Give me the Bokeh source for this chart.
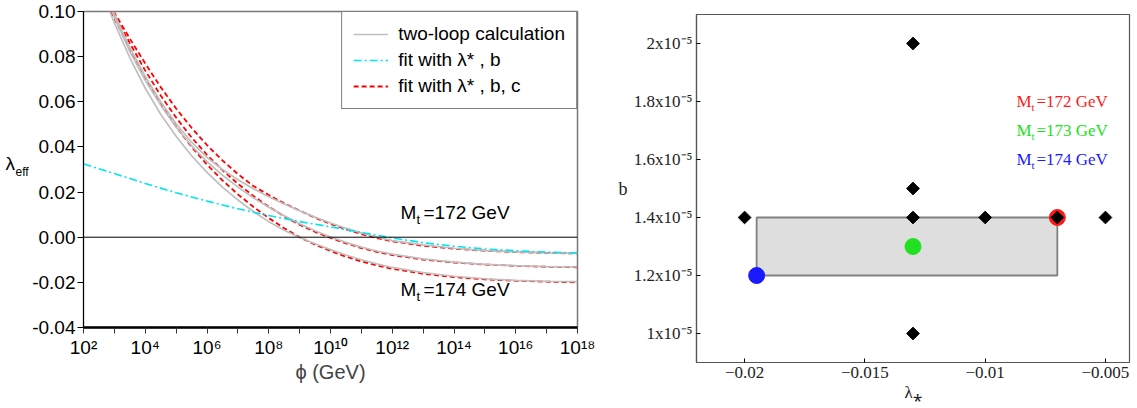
from bokeh.plotting import figure
from bokeh.layouts import row, column
from bokeh.models import (FixedTicker, Span, Label, Legend, LegendItem,
                          NumeralTickFormatter, CustomJSTickFormatter)
from bokeh.embed import file_html
from bokeh.resources import INLINE

# ---------------- left panel data: log10(phi/GeV) and lambda_eff ----------------
half_grid = [3, 3.5, 4, 4.5, 5, 5.5, 6, 6.5, 7, 7.5, 8, 8.5, 9, 9.5, 10, 10.5,
             11, 11.5, 12, 13, 14, 15, 16, 17, 18]

logphi_loop_172 = [2.97] + half_grid
lam_loop_172 = [0.100, 0.0990, 0.0840, 0.0712, 0.0600, 0.0503, 0.0421, 0.0354, 0.0300,
                0.0255, 0.0215, 0.0179, 0.0147, 0.0117, 0.0089, 0.0063, 0.0040, 0.0019,
                0.0001, -0.0015, -0.0034, -0.0049, -0.0059, -0.0065, -0.0069, -0.0071]
logphi_loop_173 = [2.92] + half_grid
lam_loop_173 = [0.100, 0.0975, 0.0822, 0.0695, 0.0585, 0.0488, 0.0405, 0.0335, 0.0275,
                0.0222, 0.0175, 0.0133, 0.0095, 0.0060, 0.0029, 0.0001, -0.0023, -0.0044,
                -0.0061, -0.0075, -0.0096, -0.0110, -0.0120, -0.0126, -0.0130, -0.0132]
logphi_loop_174 = [2.85] + half_grid
lam_loop_174 = [0.100, 0.0950, 0.0795, 0.0660, 0.0545, 0.0447, 0.0361, 0.0287, 0.0222,
                0.0165, 0.0114, 0.0069, 0.0031, -0.0001, -0.0029, -0.0055, -0.0079, -0.0100,
                -0.0118, -0.0134, -0.0157, -0.0173, -0.0184, -0.0191, -0.0195, -0.0197]

logphi_fit3_172 = [2.97] + half_grid
lam_fit3_172 = [0.100, 0.0995, 0.0880, 0.0770, 0.0665, 0.0570, 0.0485, 0.0408, 0.0340,
                0.0280, 0.0227, 0.0187, 0.0150, 0.0118, 0.0086, 0.0059, 0.0035, 0.0014,
                -0.0004, -0.0018, -0.0038, -0.0051, -0.0060, -0.0066, -0.0070, -0.0072]
logphi_fit3_173 = [2.92] + half_grid
lam_fit3_173 = [0.100, 0.0985, 0.0860, 0.0738, 0.0628, 0.0530, 0.0442, 0.0365, 0.0297,
                0.0237, 0.0183, 0.0135, 0.0093, 0.0055, 0.0024, -0.0003, -0.0027, -0.0048,
                -0.0065, -0.0079, -0.0099, -0.0112, -0.0121, -0.0127, -0.0131, -0.0133]
logphi_fit3_174 = [2.88] + half_grid
lam_fit3_174 = [0.100, 0.0970, 0.0835, 0.0705, 0.0590, 0.0490, 0.0400, 0.0322, 0.0252,
                0.0190, 0.0135, 0.0085, 0.0040, 0.0000, -0.0033, -0.0061, -0.0086, -0.0107,
                -0.0125, -0.0140, -0.0162, -0.0177, -0.0187, -0.0193, -0.0197, -0.0200]

logphi_fit2_172 = [2, 3, 4, 5, 6, 7, 8, 9, 10, 11, 12, 13, 14, 15, 16, 17, 18]
lam_fit2_172 = [0.0325, 0.0282, 0.0238, 0.0197, 0.0160, 0.0126, 0.0096, 0.0069, 0.0046,
                0.0021, -0.0003, -0.0024, -0.0040, -0.0052, -0.0060, -0.0066, -0.0070]

x_major = [1e2, 1e4, 1e6, 1e8, 1e10, 1e12, 1e14, 1e16, 1e18]
x_minor = [1e3, 1e5, 1e7, 1e9, 1e11, 1e13, 1e15, 1e17]
x_tick_labels = ["10²", "10⁴", "10⁶", "10⁸", "10¹⁰", "10¹²", "10¹⁴", "10¹⁶", "10¹⁸"]
y_major = [-0.04, -0.02, 0.0, 0.02, 0.04, 0.06, 0.08, 0.10]
legend_labels = ["two-loop calculation", "fit with λ* , b", "fit with λ* , b, c"]
curve_labels = ["172", "174"]

# ---------------- right panel data ----------------
grid_lam = [-0.02, -0.013, -0.01, -0.007, -0.005, -0.013, -0.013, -0.013]
grid_b = [1.4e-5, 1.4e-5, 1.4e-5, 1.4e-5, 1.4e-5, 2.0e-5, 1.5e-5, 1.0e-5]
best_mt = ["172", "173", "174"]
best_lam = [-0.007, -0.013, -0.0195]
best_b = [1.4e-5, 1.3e-5, 1.2e-5]
rx_ticks = [-0.02, -0.015, -0.01, -0.005]
rx_labels = ["−0.02", "−0.015", "−0.01", "−0.005"]
ry_ticks = [1.0e-5, 1.2e-5, 1.4e-5, 1.6e-5, 1.8e-5, 2.0e-5]
ry_labels = ["1x10⁻⁵", "1.2x10⁻⁵", "1.4x10⁻⁵", "1.6x10⁻⁵", "1.8x10⁻⁵", "2x10⁻⁵"]

mt_colors = ["#ff1a1a", "#22e022", "#1a1aff"]

SANS = "Liberation Sans"
SERIF = "Liberation Serif"
H = 408


def nearest_formatter(tick_values, tick_texts):
    return CustomJSTickFormatter(args=dict(tvals=tick_values, ttexts=tick_texts), code="""
        let best = 0; let d = Infinity;
        for (let i = 0; i < tvals.length; i++) {
            const e = Math.abs(tvals[i] - tick);
            if (e < d) { d = e; best = i; }
        }
        return ttexts[best];
    """)


def label_strip(width):
    f = figure(width=width, height=H, x_range=(0, width), y_range=(0, H),
               output_backend="svg", toolbar_location=None,
               x_axis_location=None, y_axis_location=None,
               min_border_left=0, min_border_right=0, min_border_top=0, min_border_bottom=0)
    f.grid.visible = False
    f.outline_line_color = None
    return f


# ================= label strip for lambda_eff =================
sl = label_strip(29)
sl.add_layout(Label(x=5, y=H - 163, text="λ", text_font=SANS, text_font_size="19px",
                    text_color="black", text_baseline="middle"))
sl.add_layout(Label(x=15, y=H - 171, text="eff", text_font=SANS, text_font_size="12px",
                    text_color="black", text_baseline="middle"))

# ================= left figure =================
p = figure(width=571, height=H, x_axis_type="log", x_range=(1e2, 1e18),
           y_range=(-0.04, 0.10), output_backend="svg", toolbar_location=None,
           min_border_left=52, min_border_right=23, min_border_top=11, min_border_bottom=81)
p.grid.visible = False
p.outline_line_color = "#777777"
p.outline_line_width = 1.5
p.background_fill_color = "white"

p.add_layout(Span(location=0, dimension="width", line_color="black", line_width=1))


def pw(logs):
    return [10.0 ** v for v in logs]


red_kw = dict(line_color="#ff0000", line_width=1.8, line_dash="5 3")
gray_kw = dict(line_color="#bfbfbf", line_width=1.7)
r172 = p.line(pw(logphi_fit3_172), lam_fit3_172, **red_kw)
p.line(pw(logphi_fit3_173), lam_fit3_173, **red_kw)
p.line(pw(logphi_fit3_174), lam_fit3_174, **red_kw)
g172 = p.line(pw(logphi_loop_172), lam_loop_172, **gray_kw)
p.line(pw(logphi_loop_173), lam_loop_173, **gray_kw)
p.line(pw(logphi_loop_174), lam_loop_174, **gray_kw)
cy = p.line(pw(logphi_fit2_172), lam_fit2_172, line_color="#00e5ee", line_width=1.6,
            line_dash="8 3 2 3")

leg = Legend(items=[LegendItem(label=legend_labels[0], renderers=[g172]),
                    LegendItem(label=legend_labels[1], renderers=[cy]),
                    LegendItem(label=legend_labels[2], renderers=[r172])],
             location="top_right")
leg.margin = 0
leg.padding = 11
leg.spacing = 4
leg.label_height = 20
leg.glyph_height = 20
leg.glyph_width = 35
leg.label_standoff = 10
leg.border_line_color = "black"
leg.border_line_width = 1
leg.background_fill_alpha = 1.0
leg.label_text_font = SANS
leg.label_text_font_size = "19px"
leg.label_text_color = "black"
p.add_layout(leg)

xa = p.xaxis[0]
xa.ticker = FixedTicker(ticks=x_major, minor_ticks=x_minor)
xa.formatter = nearest_formatter(x_major, x_tick_labels)
xa.major_label_text_font = SANS
xa.major_label_text_font_size = "19px"
xa.major_label_text_color = "black"
xa.major_tick_in = 0
xa.major_tick_out = 6
xa.minor_tick_in = 0
xa.minor_tick_out = 6
xa.major_tick_line_color = "#333333"
xa.minor_tick_line_color = "#333333"
xa.axis_line_width = 2.5
xa.axis_line_color = "black"
xa.major_label_standoff = 3
xa.axis_label = "ϕ (GeV)"
xa.axis_label_text_font = SANS
xa.axis_label_text_font_size = "20px"
xa.axis_label_text_font_style = "normal"
xa.axis_label_standoff = 0

ya = p.yaxis[0]
ya.ticker = FixedTicker(ticks=y_major)
ya.formatter = NumeralTickFormatter(format="0.00")
ya.major_label_text_font = SANS
ya.major_label_text_font_size = "19px"
ya.major_label_text_color = "black"
ya.major_tick_in = 0
ya.major_tick_out = 6
ya.minor_tick_line_color = None
ya.axis_line_color = "black"
ya.major_label_standoff = 2

lab_kw = dict(x_units="screen", y_units="screen", text_font=SANS, text_color="black",
              text_baseline="middle", text_align="left")
for txt, yy in zip(curve_labels, [115, 38]):
    p.add_layout(Label(x=317, y=yy, text="M", text_font_size="19px", **lab_kw))
    p.add_layout(Label(x=333, y=yy - 7, text="t", text_font_size="13px", **lab_kw))
    p.add_layout(Label(x=340, y=yy, text="=" + txt + " GeV", text_font_size="19px", **lab_kw))

# ================= label strip for b =================
sb = label_strip(30)
sb.add_layout(Label(x=18, y=H - 188, text="b", text_font=SERIF, text_font_size="18px",
                    text_color="#222222", text_baseline="middle"))

# ================= right figure =================
q = figure(width=505, height=H, x_range=(-0.022, -0.004), y_range=(0.9e-5, 2.1e-5),
           output_backend="svg", toolbar_location=None,
           min_border_left=65, min_border_right=6, min_border_top=14, min_border_bottom=46)
q.grid.visible = False
q.outline_line_color = "#555555"
q.outline_line_width = 1.2

q.quad(left=[min(best_lam)], right=[max(best_lam)], bottom=[min(best_b)], top=[max(best_b)],
       fill_color="#dedede", line_color="#808080", line_width=1.8)
q.scatter(best_lam, best_b, marker="circle", size=16, fill_color=mt_colors,
          line_color=mt_colors)
q.scatter(grid_lam, grid_b, marker="square", angle=0.785398, size=9,
          fill_color="black", line_color="black")

for ax, tk, lb in ((q.xaxis[0], rx_ticks, rx_labels), (q.yaxis[0], ry_ticks, ry_labels)):
    ax.ticker = FixedTicker(ticks=tk)
    ax.formatter = nearest_formatter(tk, lb)
    ax.major_label_text_font = SERIF
    ax.major_label_text_font_size = "17px"
    ax.major_label_text_color = "#222222"
    ax.major_tick_in = 4
    ax.major_tick_out = 0
    ax.minor_tick_line_color = None
    ax.axis_line_color = "#555555"
    ax.axis_line_width = 1.2
    ax.major_label_standoff = 4

q.xaxis[0].axis_label = "λ⁎"
q.xaxis[0].axis_label_text_font = SERIF
q.xaxis[0].axis_label_text_font_size = "17px"
q.xaxis[0].axis_label_text_font_style = "normal"
q.xaxis[0].axis_label_text_color = "#222222"
q.xaxis[0].axis_label_standoff = 2

rl_kw = dict(text_font=SERIF, text_baseline="middle", text_align="left")
for mt, col, yy in zip(best_mt, mt_colors, [1.8e-5, 1.7e-5, 1.6e-5]):
    q.add_layout(Label(x=-0.0087, y=yy, text="M", text_font_size="17px", text_color=col, **rl_kw))
    q.add_layout(Label(x=-0.0087, y=yy, x_offset=15, y_offset=-5, text="t",
                       text_font_size="11px", text_color=col, **rl_kw))
    q.add_layout(Label(x=-0.0087, y=yy, x_offset=20, text="=" + mt + " GeV",
                       text_font_size="17px", text_color=col, **rl_kw))

layout = row(column(sl), column(p), column(sb), column(q))
open("out.html", "w").write(file_html(layout, INLINE))
